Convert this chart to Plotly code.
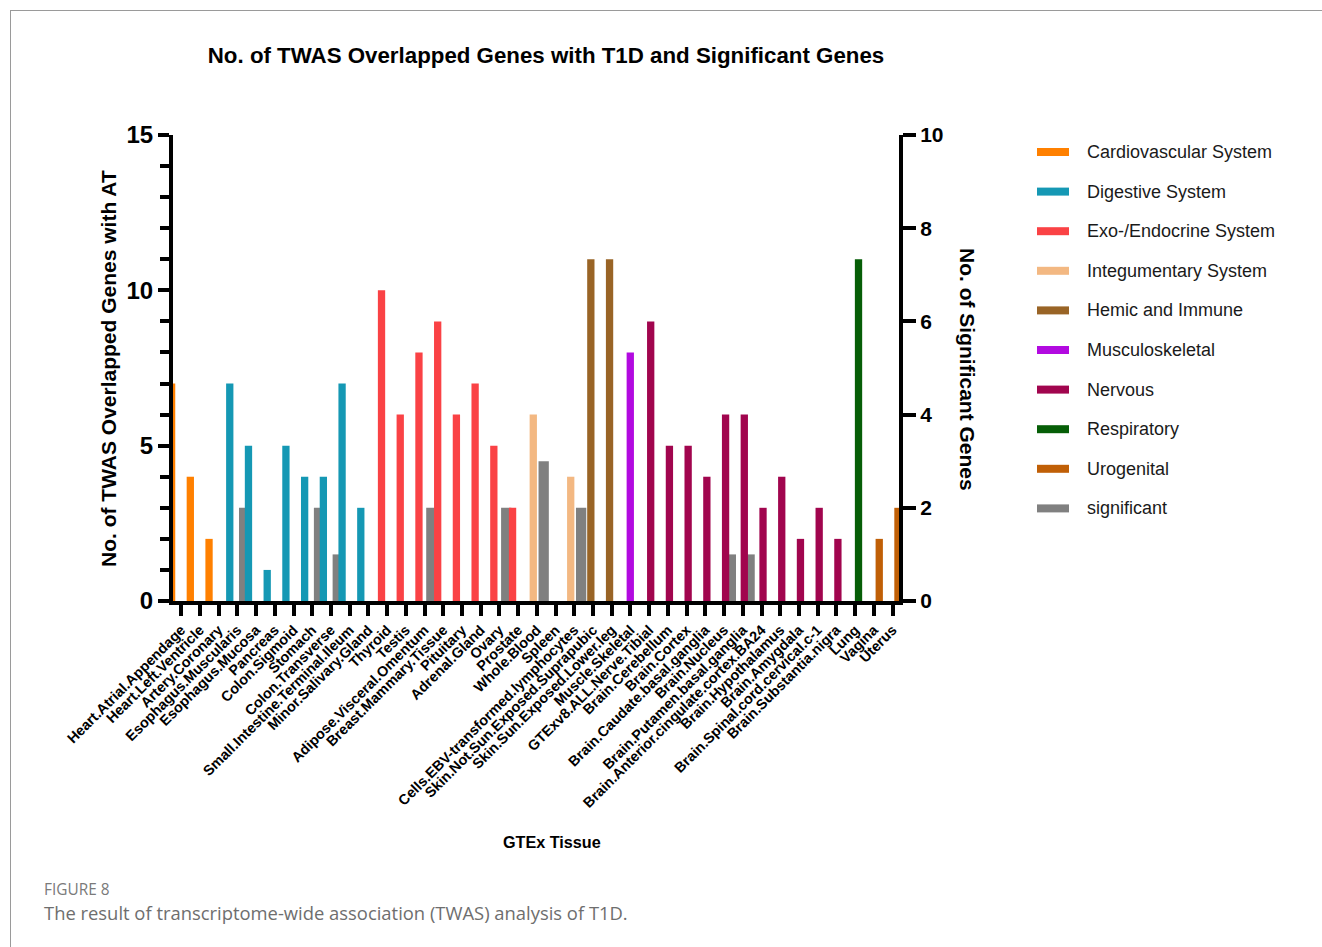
import plotly.graph_objects as go

# ---- data -----------------------------------------------------------------
tissues = [
    "Heart.Atrial.Appendage", "Heart.Left.Ventricle", "Artery.Coronary",
    "Esophagus.Muscularis", "Esophagus.Mucosa", "Pancreas", "Colon.Sigmoid",
    "Stomach", "Colon.Transverse", "Small.Intestine.Terminal.Ileum",
    "Minor.Salivary.Gland", "Thyroid", "Testis", "Adipose.Visceral.Omentum",
    "Breast.Mammary.Tissue", "Pituitary", "Adrenal.Gland", "Ovary", "Prostate",
    "Whole.Blood", "Spleen", "Cells.EBV-transformed.lymphocytes",
    "Skin.Not.Sun.Exposed.Suprapubic", "Skin.Sun.Exposed.Lower.leg",
    "Muscle.Skeletal", "GTExv8.ALL.Nerve.Tibial", "Brain.Cerebellum",
    "Brain.Cortex", "Brain.Caudate.basal.ganglia", "Brain.Nucleus",
    "Brain.Putamen.basal.ganglia", "Brain.Anterior.cingulate.cortex.BA24",
    "Brain.Hypothalamus", "Brain.Amygdala", "Brain.Spinal.cord.cervical.c-1",
    "Brain.Substantia.nigra", "Lung", "Vagina", "Uterus",
]

overlap_genes = [7, 4, 2, 7, 5, 1, 5, 4, 4, 7, 3, 10, 6, 8, 9, 6, 7, 5, 3,
                 6, 0, 4, 11, 11, 8, 9, 5, 5, 4, 6, 6, 3, 4, 2, 3, 2, 11, 2, 3]

tissue_system = (
    ["Cardiovascular System"] * 3
    + ["Digestive System"] * 8
    + ["Exo-/Endocrine System"] * 8
    + ["Integumentary System", "Hemic and Immune", "Integumentary System",
       "Hemic and Immune", "Hemic and Immune", "Musculoskeletal"]
    + ["Nervous"] * 11
    + ["Respiratory"]
    + ["Urogenital"] * 2
)

significant_genes = [None, None, None, 2, None, None, None, 2, 1, None, None,
                     None, None, 2, None, None, None, 2, None, 3, None, 2,
                     None, None, None, None, None, None, None, 1, 1, None,
                     None, None, None, None, None, None, None]

systems = ["Cardiovascular System", "Digestive System", "Exo-/Endocrine System",
           "Integumentary System", "Hemic and Immune", "Musculoskeletal",
           "Nervous", "Respiratory", "Urogenital"]

# ---- styling ----------------------------------------------------------------
system_colors = {
    "Cardiovascular System": "#FF8000",
    "Digestive System": "#1598B4",
    "Exo-/Endocrine System": "#FA4245",
    "Integumentary System": "#F3B882",
    "Hemic and Immune": "#996426",
    "Musculoskeletal": "#B20AE0",
    "Nervous": "#A1054E",
    "Respiratory": "#065E07",
    "Urogenital": "#C05F06",
}
sig_color = "#808080"

# each data set sits slightly shifted from its category tick (pixels / tick spacing)
TICK_PX = 18.72
system_shift = {
    "Cardiovascular System": -9.6, "Digestive System": -7.6,
    "Exo-/Endocrine System": -5.6, "Integumentary System": -3.6,
    "Hemic and Immune": -2.2, "Musculoskeletal": -0.2, "Nervous": 1.5,
    "Respiratory": 3.4, "Urogenital": 5.4,
}
sig_shift = 6.8
bar_w = 7.3 / TICK_PX
sig_w = 10.3 / TICK_PX

FONT = "Arial, Liberation Sans, sans-serif"
W, H = 1322, 947
PL, PR, PT, PB = 173, 899, 135, 601


def fx(x):
    return (x - PL) / (PR - PL)


def fy(y):
    return (PB - y) / (PB - PT)


fig = go.Figure()

# significant genes (right axis), drawn beneath the coloured bars
sx = [i + sig_shift / TICK_PX for i, v in enumerate(significant_genes) if v is not None]
sy = [v for v in significant_genes if v is not None]
fig.add_trace(go.Bar(x=sx, y=sy, width=sig_w, yaxis="y", name="significant",
                     marker=dict(color=sig_color, line=dict(width=0)),
                     showlegend=False))

# overlapped genes per body system (left axis)
for s in systems:
    idx = [i for i, t in enumerate(tissue_system) if t == s]
    fig.add_trace(go.Bar(
        x=[i + system_shift[s] / TICK_PX for i in idx],
        y=[overlap_genes[i] for i in idx],
        width=bar_w, yaxis="y2", name=s,
        marker=dict(color=system_colors[s], line=dict(width=0)),
        showlegend=False,
    ))

axis_common = dict(showgrid=False, zeroline=False, showline=True,
                   linecolor="black", linewidth=4, ticks="outside",
                   tickcolor="black", tickwidth=3.5)

fig.update_layout(
    width=W, height=H,
    margin=dict(l=PL, r=W - PR, t=PT, b=H - PB),
    paper_bgcolor="white", plot_bgcolor="white",
    barmode="overlay",
    font=dict(family=FONT, color="black"),
    title=dict(text="No. of TWAS Overlapped Genes with T1D and Significant Genes",
               x=546 / W, xanchor="center", y=1 - 55 / H, yanchor="middle",
               font=dict(family=FONT, size=22.3, weight="bold", color="black")),
    xaxis=dict(range=[(PL - 181.2) / TICK_PX, (PR - 181.2) / TICK_PX],
               tickmode="array", tickvals=list(range(len(tissues))),
               ticktext=tissues, tickangle=-45, ticklen=11,
               tickfont=dict(family=FONT, size=14.4, weight="bold", color="black"),
               **axis_common),
    yaxis=dict(side="right", range=[0, 10], dtick=2, ticklen=13,
               tickfont=dict(family=FONT, size=21, weight="bold", color="black"),
               **axis_common),
    yaxis2=dict(side="left", overlaying="y", range=[0, 15], dtick=5, ticklen=11,
                minor=dict(dtick=1, ticks="outside", ticklen=9, tickwidth=3.5,
                           tickcolor="black"),
                tickfont=dict(family=FONT, size=24, weight="bold", color="black"),
                **axis_common),
)

ann = []
shapes = []


def label(text, x, y, size, angle=0, weight="bold", color="black",
          family=FONT, xanchor="center"):
    ann.append(dict(text=text, x=fx(x), y=fy(y), xref="paper", yref="paper",
                    xanchor=xanchor, yanchor="middle", showarrow=False,
                    textangle=angle,
                    font=dict(family=family, size=size, weight=weight,
                              color=color)))


# axis titles
label("No. of TWAS Overlapped Genes with AT", 108, 369, 21, angle=-90)
label("No. of Significant Genes", 968, 369, 21, angle=90)
label("GTEx Tissue", 552, 842, 16.2)

# legend
legend_items = systems + ["significant"]
legend_colors = [system_colors[s] for s in systems] + [sig_color]
for k, (lab, col) in enumerate(zip(legend_items, legend_colors)):
    yc = 152 + k * 39.6
    shapes.append(dict(type="rect", xref="paper", yref="paper",
                       x0=fx(1037), x1=fx(1069), y0=fy(yc - 4), y1=fy(yc + 4),
                       fillcolor=col, line=dict(width=0)))
    label(lab, 1085, yc, 18, weight="normal", color="#1a1a1a", xanchor="left")

# figure caption and frame
label("FIGURE 8", 42, 889, 15.4, weight="normal", color="#7a7a7a",
      family="Open Sans", xanchor="left")
label("The result of transcriptome-wide association (TWAS) analysis of T1D.",
      42, 912, 18.4, weight="normal", color="#6e6e6e", family="Open Sans",
      xanchor="left")
shapes.append(dict(type="line", xref="paper", yref="paper",
                   x0=fx(10), x1=fx(1322), y0=fy(10.5), y1=fy(10.5),
                   line=dict(color="#9a9a9a", width=1)))
shapes.append(dict(type="line", xref="paper", yref="paper",
                   x0=fx(10.5), x1=fx(10.5), y0=fy(10), y1=fy(947),
                   line=dict(color="#9a9a9a", width=1)))

fig.update_layout(annotations=ann, shapes=shapes)

fig.write_html("out.html")
